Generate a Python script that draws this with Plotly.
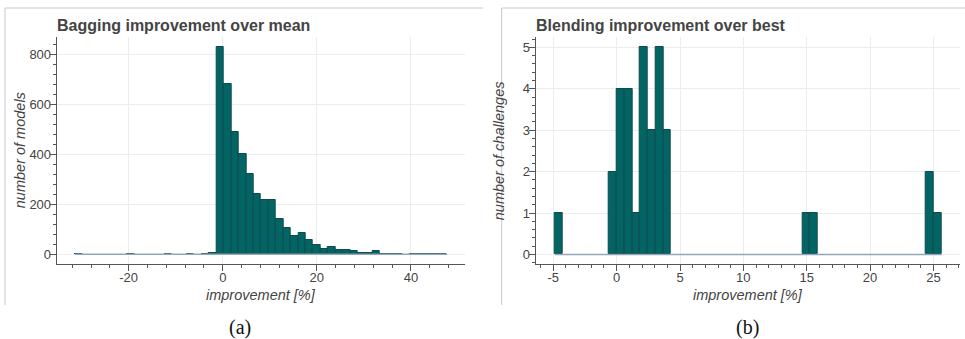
import plotly.graph_objects as go

# ---------------- data ----------------
# (a) Bagging improvement over mean: 50 histogram bins
bag_bin_start = -31.4
bag_bin_width = 1.582
bag_counts = [3, 0, 0, 0, 0, 0, 0, 1, 0, 0,
              0, 0, 1, 0, 0, 1, 0, 1, 6, 828,
              681, 488, 401, 321, 243, 217, 219, 140, 105, 73,
              87, 57, 37, 23, 29, 19, 16, 12, 5, 5,
              14, 2, 2, 1, 0, 1, 1, 1, 1, 1]

# (b) Blending improvement over best: 50 histogram bins
blend_bin_start = -4.87
blend_bin_width = 0.6104
blend_counts = [1, 0, 0, 0, 0, 0, 0, 2, 4, 4,
                1, 5, 3, 5, 3, 0, 0, 0, 0, 0,
                0, 0, 0, 0, 0, 0, 0, 0, 0, 0,
                0, 0, 1, 1, 0, 0, 0, 0, 0, 0,
                0, 0, 0, 0, 0, 0, 0, 0, 2, 1]

bag_xticks = [-20, 0, 20, 40]
bag_xticklabels = ["-20", "0", "20", "40"]
bag_yticks = [0, 200, 400, 600, 800]
blend_xticks = [-5, 0, 5, 10, 15, 20, 25]
blend_xticklabels = ["-5", "0", "5", "10", "15", "20", "25"]
blend_yticks = [0, 1, 2, 3, 4, 5]

titles = ["Bagging improvement over mean", "Blending improvement over best"]
xlabel = "improvement [%]"
ylabels = ["number of models", "number of challenges"]
captions = ["(a)", "(b)"]

# ---------------- style ----------------
W, H = 965, 339
FILL = "#036464"
EDGE = "#0c4a50"
BASE = "#8fa9b6"
TXT = "#444444"
GRID = "#ececec"
AXL = "#555555"
SANS = "Liberation Sans, Arial, Helvetica, sans-serif"
SERIF = "Liberation Serif, Times New Roman, serif"

def px(x):
    return x / W

def py(y):
    return 1 - y / H

fig = go.Figure()

def add_hist(start, width, counts, xa, ya):
    n = len(counts)
    centers = [start + width * (i + 0.5) for i in range(n)]
    fig.add_trace(go.Scatter(x=[start, start + width * n], y=[0, 0], mode="lines",
                             line=dict(color=BASE, width=1.5), xaxis=xa, yaxis=ya,
                             showlegend=False, hoverinfo="skip"))
    xs = [c for c, v in zip(centers, counts) if v > 0]
    ys = [v for v in counts if v > 0]
    fig.add_trace(go.Bar(x=xs, y=ys, width=width, marker=dict(color=FILL, line=dict(color=EDGE, width=1)),
                         xaxis=xa, yaxis=ya, showlegend=False))

add_hist(bag_bin_start, bag_bin_width, bag_counts, "x", "y")
add_hist(blend_bin_start, blend_bin_width, blend_counts, "x2", "y2")

ytop, ybot = 37, 264
common_ax = dict(showline=True, linecolor=AXL, linewidth=1, ticks="outside", ticklen=6,
                 tickcolor=AXL, showgrid=True, gridcolor=GRID, gridwidth=1, zeroline=False,
                 tickfont=dict(family=SANS, size=13, color=TXT))
xstand = -5
ystand = -4

fig.update_layout(
    width=W, height=H, margin=dict(l=0, r=0, t=0, b=0),
    paper_bgcolor="white", plot_bgcolor="white", bargap=0,
    xaxis=dict(domain=[px(56.7), px(465)], range=[-35.3, 51.5], anchor="y",
               tickvals=bag_xticks, ticktext=bag_xticklabels, ticklabelstandoff=xstand,
               minor=dict(ticks="outside", ticklen=3, dtick=4, tick0=0, tickcolor=AXL, showgrid=False),
               **common_ax),
    yaxis=dict(domain=[py(ybot), py(ytop)], range=[-39, 869], anchor="x",
               tickvals=bag_yticks, ticklabelstandoff=ystand,
               minor=dict(ticks="outside", ticklen=3, dtick=40, tick0=0, tickcolor=AXL, showgrid=False),
               **common_ax),
    xaxis2=dict(domain=[px(535.7), px(960)], range=[-6.39, 27.1], anchor="y2",
                tickvals=blend_xticks, ticktext=blend_xticklabels, ticklabelstandoff=xstand,
                minor=dict(ticks="outside", ticklen=3, dtick=1, tick0=0, tickcolor=AXL, showgrid=False),
                **common_ax),
    yaxis2=dict(domain=[py(ybot), py(ytop)], range=[-0.23, 5.25], anchor="x2",
                tickvals=blend_yticks, ticklabelstandoff=ystand,
                minor=dict(ticks="outside", ticklen=3, dtick=0.2, tick0=0, tickcolor=AXL, showgrid=False),
                **common_ax),
)

# panel borders
BORDER = "#c8c8c8"
for x0, x1 in [(5, 483), (501.7, 965)]:
    fig.add_shape(type="line", xref="paper", yref="paper", x0=px(x0), x1=px(x1), y0=py(8), y1=py(8),
                  line=dict(color=BORDER, width=1))
    fig.add_shape(type="line", xref="paper", yref="paper", x0=px(x0), x1=px(x0), y0=py(8), y1=py(305),
                  line=dict(color=BORDER, width=1))

# titles, axis titles, captions
for i, (lx, rx) in enumerate([(56.7, 465), (535.7, 960)]):
    fig.add_annotation(text="<b>" + titles[i] + "</b>", xref="paper", yref="paper",
                       x=px(lx - 2), y=py(25), xanchor="left", yanchor="middle", showarrow=False,
                       font=dict(family=SANS, size=16, color=TXT))
    fig.add_annotation(text="<i>" + xlabel + "</i>", xref="paper", yref="paper",
                       x=px((lx + rx) / 2), y=py(295), xanchor="center", yanchor="middle", showarrow=False,
                       font=dict(family=SANS, size=14.5, color=TXT))
    fig.add_annotation(text="<i>" + ylabels[i] + "</i>", xref="paper", yref="paper",
                       x=px(lx - 37), y=py((ytop + ybot) / 2), xanchor="center", yanchor="middle",
                       textangle=-90, showarrow=False,
                       font=dict(family=SANS, size=14.5, color=TXT))
    fig.add_annotation(text=captions[i], xref="paper", yref="paper",
                       x=px([240, 747][i]), y=py(327), xanchor="center", yanchor="middle", showarrow=False,
                       font=dict(family=SERIF, size=20, color="#111111"))

fig.write_html("out.html", config={"displayModeBar": False},
               post_script="document.body.style.margin='0';document.body.style.padding='0';"
                           "document.body.style.overflow='hidden';")
